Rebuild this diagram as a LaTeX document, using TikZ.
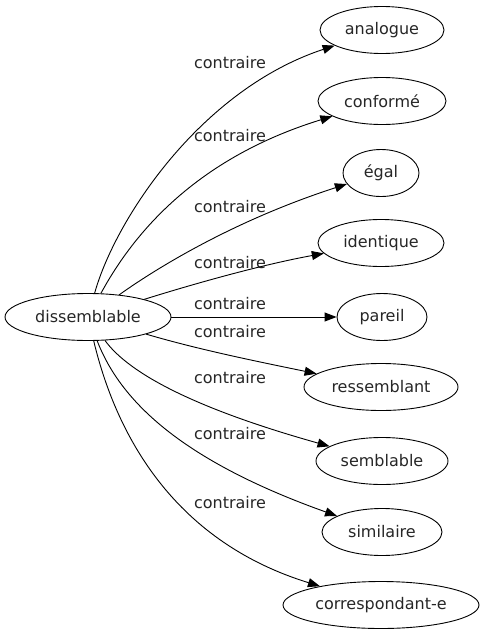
\documentclass[tikz,border=0pt]{standalone}
\usepackage{fontspec}
\setmainfont{DejaVu Sans}
\usetikzlibrary{shapes.geometric,arrows.meta}
\begin{document}
\begin{tikzpicture}[x=1pt,y=-1pt,
  every node/.style={font=\fontsize{16}{19}\selectfont, text=black!85},
  term/.style={draw, ellipse, line width=0.9pt, inner sep=0pt, minimum height=47},
  lbl/.style={inner sep=0pt},
  edge/.style={line width=0.9pt, -{Triangle[length=12,width=9]}}]
\useasboundingbox (0,0) rectangle (484,635);
\node[term, minimum width=166] (d) at (88,317) {dissemblable};
\node[term, minimum width=124] (an) at (382,30) {analogue};
\node[term, minimum width=128] (co) at (382,101) {conformé};
\node[term, minimum width=76] (eg) at (381,173) {égal};
\node[term, minimum width=126] (id) at (381,243) {identique};
\node[term, minimum width=90] (pa) at (382,317) {pareil};
\node[term, minimum width=154] (re) at (381,387) {ressemblant};
\node[term, minimum width=132] (se) at (382,461) {semblable};
\node[term, minimum width=120] (si) at (382,532) {similaire};
\node[term, minimum width=196] (cr) at (381,605) {correspondant-e};
\node[lbl] (l1) at (230,63) {contraire};
\node[lbl] (l2) at (230,136) {contraire};
\node[lbl] (l3) at (230,207) {contraire};
\node[lbl] (l4) at (230,263) {contraire};
\node[lbl] (l5) at (230,304) {contraire};
\node[lbl] (l6) at (230,332) {contraire};
\node[lbl] (l7) at (230,378) {contraire};
\node[lbl] (l8) at (230,434) {contraire};
\node[lbl] (l9) at (230,503) {contraire};
\draw[edge] (d) .. controls (115,220) and (200,90) .. (an);
\draw[edge] (d) .. controls (130,240) and (190,160) .. (co);
\draw[edge] (d) .. controls (140,280) and (220,225) .. (eg);
\draw[edge] (d) .. controls (190,285) and (260,265) .. (id);
\draw[edge] (d) -- (pa);
\draw[edge] (d) .. controls (200,350) and (260,362) .. (re);
\draw[edge] (d) .. controls (130,375) and (200,410) .. (se);
\draw[edge] (d) .. controls (120,400) and (180,460) .. (si);
\draw[edge] (d) .. controls (115,430) and (170,540) .. (cr);
\end{tikzpicture}
\end{document}
